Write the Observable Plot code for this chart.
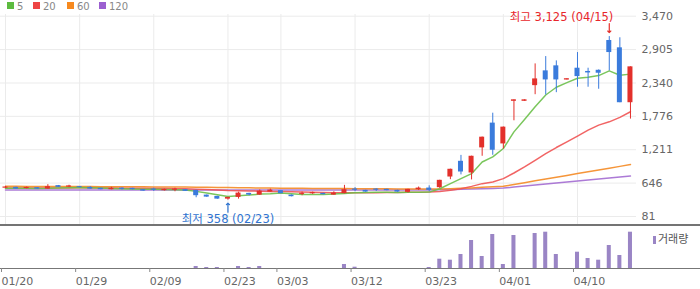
<!DOCTYPE html>
<html>
<head>
<meta charset="utf-8">
<script src="https://cdn.jsdelivr.net/npm/d3@7"></script>
<script src="https://cdn.jsdelivr.net/npm/@observablehq/plot@0.6"></script>
<style>
  body { margin: 0; background: #fff; }
  #wrap { position: relative; width: 700px; height: 289px; overflow: hidden; font-family: "DejaVu Sans", "Noto Sans CJK KR", sans-serif; }
  #main { position: absolute; left: 0; top: 0; }
  #sep { position: absolute; left: 0; top: 224px; width: 700px; height: 2px; background: #747474; }
  #vol { position: absolute; left: 0; top: 226px; }
  .lg { position: absolute; top: 1px; font-size: 10px; color: #888; line-height: 11px; }
  .sw { position: absolute; top: 2px; width: 7px; height: 7px; }
  #vlg { position: absolute; left: 653px; top: 232px; font-size: 11px; color: #555; font-family: "Noto Sans CJK KR", sans-serif; line-height: 12px; }
  #vlg i { display: inline-block; width: 3px; height: 8px; background: #9a85c5; margin-right: 2px; vertical-align: -1px; }
</style>
</head>
<body>
<div id="wrap">
  <div id="main"></div>
  <div id="sep"></div>
  <div id="vol"></div>
  <div id="legend"></div>
  <div id="vlg"><i></i>거래량</div>
</div>
<script>
// ---- data (trading days, 2026) ----
const dates = ["01/20","01/21","01/22","01/23","01/26","01/27","01/28","01/29","01/30","02/02",
  "02/03","02/04","02/05","02/06","02/09","02/10","02/11","02/12","02/13","02/19",
  "02/20","02/23","02/24","02/25","02/26","02/27","03/03","03/04","03/05","03/06",
  "03/09","03/10","03/11","03/12","03/13","03/16","03/17","03/18","03/19","03/20",
  "03/23","03/24","03/25","03/26","03/27","03/30","03/31","04/01","04/02","04/03",
  "04/06","04/07","04/08","04/09","04/10","04/13","04/14","04/15","04/16","04/17"];
const open  = [560,574,553,568,545,603,578,586,574,557, 535,560,557,535,545,518,525,535,523,443,
  421,375,404,472,443,494,518,443,455,465, 472,443,467,545,523,545,540,523,489,535,
  562,569,749,1015,817,1242,1661,1309,2030,2030, 2295,2545,2630,2390,2590,2535,2555,3059,2935,2006];
const high  = [590,578,580,570,620,606,610,588,585,558, 575,566,558,537,560,545,560,537,525,445,
  423,406,493,474,530,545,520,445,494,494, 474,500,608,570,525,550,542,525,542,580,
  600,695,882,1115,1102,1425,1829,1595,2055,2055, 2663,2787,2714,2412,2855,2590,2561,3125,3105,2613];
const low   = [555,543,548,543,543,572,570,566,543,533, 533,530,533,509,505,512,500,504,398,406,
  373,358,375,430,440,492,465,414,433,455, 448,440,465,500,492,505,516,492,477,520,
  500,555,704,785,700,1100,1117,1224,1700,2030, 2142,2137,2176,2390,2268,2268,2234,2545,2006,1729];
const close = [580,545,573,545,586,574,598,569,545,535, 557,540,535,511,525,538,545,506,433,409,
  375,404,477,443,511,528,467,416,475,485, 450,477,535,525,494,525,518,494,540,562,
  523,693,880,834,1100,1423,1202,1593,2055,2055, 2409,2392,2392,2412,2448,2510,2505,2855,2006,2613];
const volume = [0,0,0,0,0,0,0,0,0,0, 0,0,0,0,0,0,0,0,20000,10000,
  10000,0,20000,10000,20000,0,0,0,0,0, 0,0,40000,13000,0,0,0,0,0,0,
  10000,93000,83000,140000,280000,120000,340000,40000,330000,0, 350000,363000,140000,0,163000,100000,83000,230000,130000,363000];
const ma5   = [560,558,557,556,557,562,566,570,568,562, 556,552,548,543,540,538,534,530,506,477,
  449,421,432,443,460,466,477,466,455,455, 455,460,470,483,488,490,490,488,490,492,
  494,551,637,722,806,1003,1089,1231,1513,1724, 1938,2137,2268,2346,2420,2437,2465,2545,2470,2490];
const ma20  = [565,565,564,563,563,564,565,566,565,563, 562,561,559,557,555,553,551,549,543,537,
  530,522,518,513,509,506,503,498,494,490, 486,484,483,483,482,484,486,488,490,493,
  497,506,523,551,591,637,664,722,817,919, 1032,1146,1248,1343,1440,1542,1627,1683,1758,1853];
const ma60  = [592,591,590,590,589,589,588,588,587,586, 585,585,584,583,582,581,580,579,577,575,
  573,570,568,566,564,563,561,559,557,556, 555,554,553,552,551,550,549,548,548,547,
  547,548,552,558,565,575,585,591,622,653, 684,715,745,776,807,838,869,899,929,959];
const ma120 = [531,531,531,531,531,531,531,531,530,530, 530,530,530,530,530,530,529,529,529,529,
  529,529,528,528,528,528,528,528,528,528, 528,528,528,528,528,528,528,529,529,530,
  531,532,535,540,546,551,556,562,579,596, 613,630,647,664,681,698,715,732,749,766];
const maNames = ["5","20","60","120"];
const yTicks = [81,646,1211,1776,2340,2905,3470];
const xTickIdx = [0,7,14,21,26,33,40,47,54];

// ---- styles ----
const UP = "#e3302b", DOWN = "#3a7bdc";
const maColors = ["#6cc04a","#ef5353","#f48a24","#a36bd2"];
const legendColors = ["#5dbb3f","#ee4444","#f7891e","#9b5fd0"];
const VOLC = "#9a85c5";
const xDomain = [-0.472, 59.57];
const fmt = d3.format(",");

const candles = dates.map((d, i) => ({i, date: d, open: open[i], high: high[i], low: low[i], close: close[i]}));
const col = d => d.close >= d.open ? UP : DOWN;
const maSeries = [ma5, ma20, ma60, ma120];
const maData = maSeries.map((arr, k) => arr.map((v, i) => ({i, v, k})));
const maxI = d3.maxIndex(high), minI = d3.minIndex(low);

// legend
const lg = document.getElementById("legend");
const swX = [7, 33, 67, 99];
maNames.forEach((n, k) => {
  const s = document.createElement("div"); s.className = "sw";
  s.style.left = swX[k] + "px"; s.style.background = legendColors[k]; lg.appendChild(s);
  const t = document.createElement("div"); t.className = "lg";
  t.style.left = (swX[k] + 10) + "px"; t.textContent = n; lg.appendChild(t);
});

const main = Plot.plot({
  width: 700, height: 224,
  marginLeft: 0, marginRight: 64, marginTop: 14, marginBottom: 0,
  style: {fontFamily: "'DejaVu Sans', 'Noto Sans CJK KR', sans-serif", background: "transparent", overflow: "visible"},
  x: {domain: xDomain, axis: null},
  y: {domain: [81, 3470], range: [216, 15.7]},
  marks: [
    Plot.gridY(yTicks, {stroke: "#ebebeb", strokeOpacity: 1}),
    Plot.gridX(xTickIdx, {stroke: "#ebebeb", strokeOpacity: 1}),
    Plot.axisY(yTicks, {anchor: "right", tickSize: 0, tickPadding: 5, tickFormat: fmt, fontSize: 11, fill: "#666"}),
    ...[3,2,1,0].map(k => Plot.line(maData[k], {x: "i", y: "v", stroke: maColors[k], strokeWidth: 1.5, strokeOpacity: 0.9})),
    Plot.ruleX(candles, {x: "i", y1: "low", y2: "high", stroke: col, strokeWidth: 1}),
    Plot.rect(candles, {x1: d => d.i - 0.236, x2: d => d.i + 0.236, y1: "open", y2: "close", fill: col}),
    Plot.vector([maxI], {x: d => d, y: d => high[d], length: 9, rotate: 180, anchor: "end", r: 3, dy: -4, stroke: UP, strokeWidth: 1.2}),
    Plot.text([maxI], {x: d => d, y: d => high[d], text: d => `최고 ${fmt(high[d])} (${dates[d]})`, textAnchor: "end", dx: 4, dy: -19.5, fill: "#e8262b", fontSize: 11.5}),
    Plot.vector([minI], {x: d => d, y: d => low[d], length: 9, rotate: 0, anchor: "end", r: 3, dy: 3, stroke: "#2f74d0", strokeWidth: 1.2}),
    Plot.text([minI], {x: d => d, y: d => low[d], text: d => `최저 ${fmt(low[d])} (${dates[d]})`, dy: 19.5, fill: "#2f74d0", fontSize: 11.5})
  ]
});
document.getElementById("main").appendChild(main);

const volData = dates.map((d, i) => ({i, v: volume[i]})).filter(d => d.v > 0);
const vol = Plot.plot({
  width: 700, height: 63,
  marginLeft: 0, marginRight: 0, marginTop: 5.7, marginBottom: 21,
  style: {fontFamily: "'DejaVu Sans', sans-serif", background: "transparent", overflow: "visible"},
  x: {domain: xDomain, range: [0, 636]},
  y: {domain: [0, 363000], axis: null},
  marks: [
    Plot.rect(volData, {x1: d => d.i - 0.19, x2: d => d.i + 0.19, y1: 0, y2: "v", fill: VOLC}),
    Plot.ruleY([0], {stroke: "#777", strokeWidth: 1.2}),
    Plot.axisX(xTickIdx, {anchor: "bottom", tickSize: 4, tickPadding: 5, tickFormat: i => dates[i], textAnchor: "start", dx: -4, fontSize: 11, fill: "#666", stroke: "#888"})
  ]
});
document.getElementById("vol").appendChild(vol);
</script>
</body>
</html>
